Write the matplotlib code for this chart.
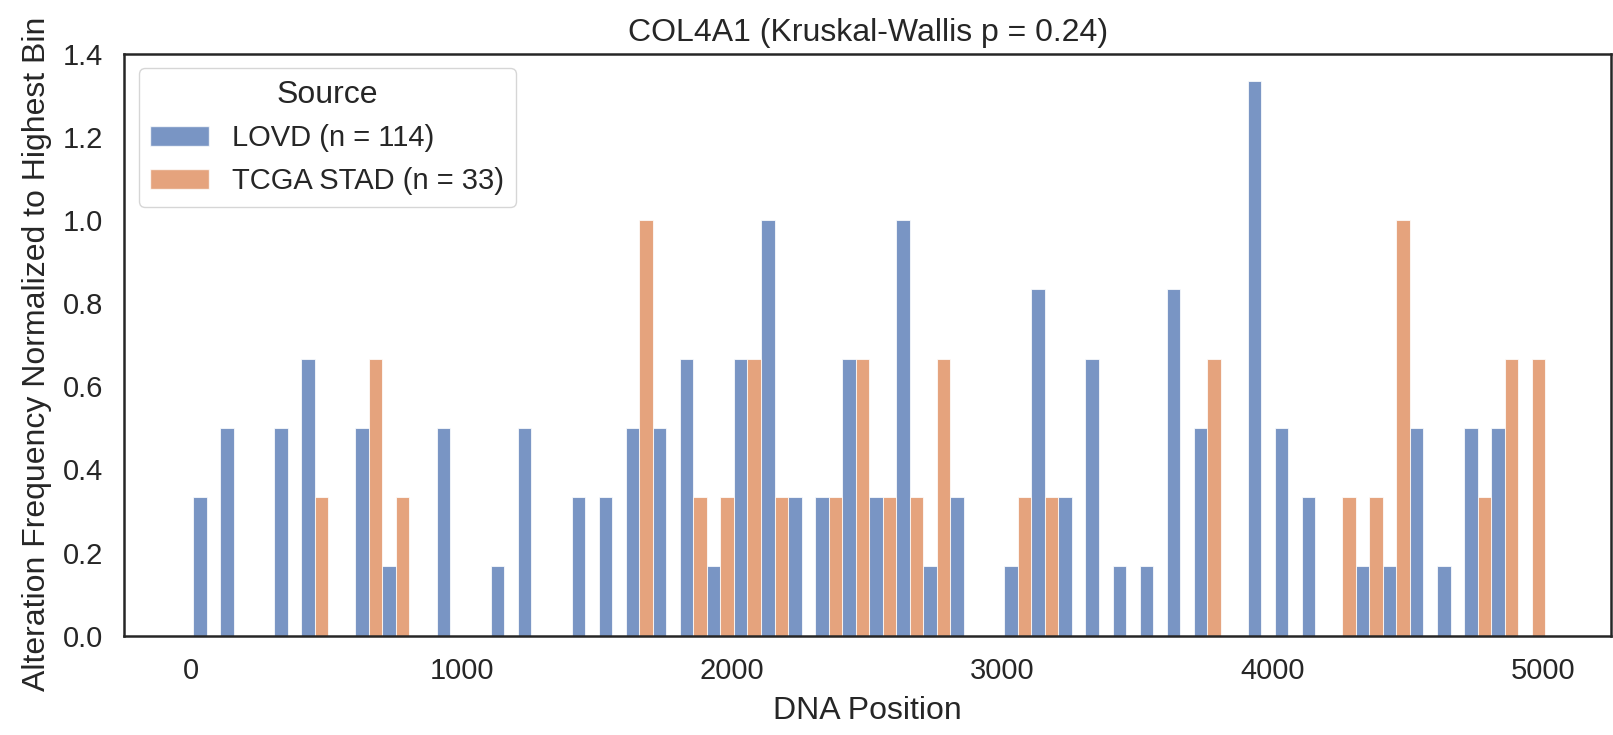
import numpy as np
import matplotlib.pyplot as plt
from matplotlib.patches import Patch

plt.rcParams['font.family'] = ['Liberation Sans', 'DejaVu Sans']
plt.rcParams['text.color'] = '#262626'
plt.rcParams['axes.labelcolor'] = '#262626'
plt.rcParams['xtick.color'] = '#262626'
plt.rcParams['ytick.color'] = '#262626'

# histogram bins along the gene (50 bins of 100 bp)
bin_start = 7
bin_width = 100
n_bins = 50

# variant counts per bin: {bin index: count}
lovd_counts = {0: 2, 1: 3, 3: 3, 4: 4, 6: 3, 7: 1, 9: 3, 11: 1, 12: 3, 14: 2,
               15: 2, 16: 3, 17: 3, 18: 4, 19: 1, 20: 4, 21: 6, 22: 2, 23: 2,
               24: 4, 25: 2, 26: 6, 27: 1, 28: 2, 30: 1, 31: 5, 32: 2, 33: 4,
               34: 1, 35: 1, 36: 5, 37: 3, 39: 8, 40: 3, 41: 2, 43: 1, 44: 1,
               45: 3, 46: 1, 47: 3, 48: 3}
tcga_counts = {4: 1, 6: 2, 7: 1, 16: 3, 18: 1, 19: 1, 20: 2, 21: 1, 23: 1,
               24: 2, 25: 1, 26: 1, 27: 2, 30: 1, 31: 1, 37: 2, 42: 1, 43: 1,
               44: 3, 47: 1, 48: 2, 49: 2}

# normalisation factors (highest bin)
lovd_norm = 6
tcga_norm = 3

labels = ["LOVD (n = 114)", "TCGA STAD (n = 33)"]
colors = ["#4C72B0", "#DD8452"]

edges = bin_start + bin_width * np.arange(n_bins)
lovd = np.zeros(n_bins)
tcga = np.zeros(n_bins)
for k, v in lovd_counts.items():
    lovd[k] = v / lovd_norm
for k, v in tcga_counts.items():
    tcga[k] = v / tcga_norm

fig, ax = plt.subplots(figsize=(16.13, 7.35), dpi=100)

half = bin_width / 2
ax.bar(edges, lovd, width=half, align='edge', color=colors[0], alpha=0.75,
       edgecolor='white', linewidth=0.75)
ax.bar(edges + half, tcga, width=half, align='edge', color=colors[1], alpha=0.75,
       edgecolor='white', linewidth=0.75)

ax.set_ylim(0, 1.4)
ax.set_xlim(-248, 5252)
ax.set_xticks([0, 1000, 2000, 3000, 4000, 5000])
ax.set_yticks(np.arange(0, 1.41, 0.2))
ax.tick_params(labelsize=21, length=0, pad=15)

for s in ax.spines.values():
    s.set_linewidth(1.8)
    s.set_color('#262626')

ax.set_xlabel("DNA Position", fontsize=23, labelpad=8)
ax.set_ylabel("Alteration Frequency Normalized to Highest Bin", fontsize=23, labelpad=8)
ax.yaxis.label.set_y(0.485)
ax.set_title("COL4A1 (Kruskal-Wallis p = 0.24)", fontsize=23, pad=9)

handles = [Patch(facecolor=c, alpha=0.75, edgecolor='white') for c in colors]
leg = ax.legend(handles, labels, title="Source", loc='upper left', fontsize=21,
                title_fontsize=23, frameon=True, borderpad=0.4)
leg.get_frame().set_edgecolor('#cccccc')

plt.subplots_adjust(left=0.077, right=0.999, top=0.927, bottom=0.135)
plt.savefig("out.png", dpi=100)
